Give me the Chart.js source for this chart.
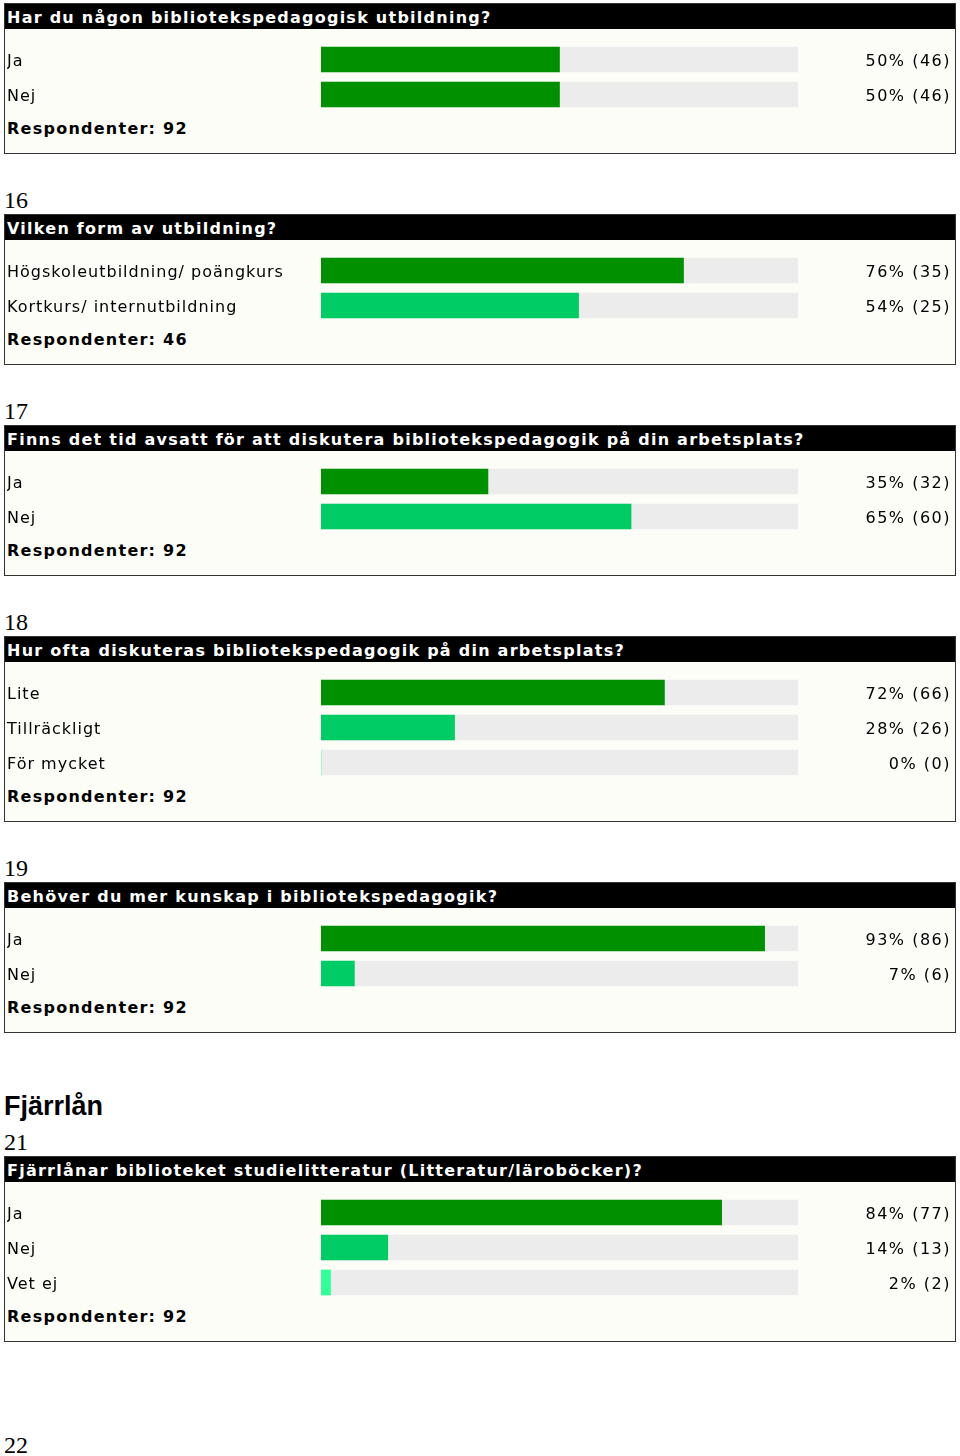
<!DOCTYPE html>
<html>
<head>
<meta charset="utf-8">
<script src="https://cdn.jsdelivr.net/npm/chart.js@4.4.1/dist/chart.umd.min.js"></script>
<style>
  body { margin: 0; background: #fff; width: 960px; height: 1456px; position: relative; overflow: hidden; }
  .num { position: absolute; left: 4px; font-family: "Liberation Serif", serif; font-size: 24px; line-height: 24px; color: #000; }
  .h2 { position: absolute; left: 4px; font-family: "Liberation Sans", Arial, sans-serif; font-weight: bold; font-size: 27px; line-height: 30px; color: #000; }
  .panel { position: absolute; left: 4px; width: 952px; box-sizing: border-box; border: 1px solid #333; background: #fdfdf7; }
  .panel .head { height: 25px; background: #000; color: #fff; font-family: "DejaVu Sans", Verdana, sans-serif; font-weight: bold; font-size: 16px; line-height: 27px; padding-left: 2px; letter-spacing: 1.25px; white-space: nowrap; }
  .panel .box { position: absolute; left: 0; top: 38px; width: 950px; }
  .panel .resp { position: absolute; left: 2px; font-family: "DejaVu Sans", Verdana, sans-serif; font-weight: bold; font-size: 16px; line-height: 20px; letter-spacing: 1.25px; color: #000; }
</style>
</head>
<body>
<script>
// questions
const questions = [
  "Har du någon bibliotekspedagogisk utbildning?",
  "Vilken form av utbildning?",
  "Finns det tid avsatt för att diskutera bibliotekspedagogik på din arbetsplats?",
  "Hur ofta diskuteras bibliotekspedagogik på din arbetsplats?",
  "Behöver du mer kunskap i bibliotekspedagogik?",
  "Fjärrlånar biblioteket studielitteratur (Litteratur/läroböcker)?"
];
const questionNumbers = ["", "16", "17", "18", "19", "21"];

// answer categories
const answers = [
  ["Ja", "Nej"],
  ["Högskoleutbildning/ poängkurs", "Kortkurs/ internutbildning"],
  ["Ja", "Nej"],
  ["Lite", "Tillräckligt", "För mycket"],
  ["Ja", "Nej"],
  ["Ja", "Nej", "Vet ej"]
];

// percent of respondents
const percents = [
  [50, 50],
  [76, 54],
  [35, 65],
  [72, 28, 0],
  [93, 7],
  [84, 14, 2]
];

// answer counts
const counts = [
  [46, 46],
  [35, 25],
  [32, 60],
  [66, 26, 0],
  [86, 6],
  [77, 13, 2]
];

const respondents = [92, 46, 92, 92, 92, 92];

// bar colours per question
const barColors = [
  ["#009000", "#009000"],
  ["#009000", "#00cc66"],
  ["#009000", "#00cc66"],
  ["#009000", "#00cc66", "#33ff99"],
  ["#009000", "#00cc66"],
  ["#009000", "#00cc66", "#33ff99"]
];

const trackMax = 100;

// layout
const panelTops = [3, 214, 425, 636, 882, 1156];
const rowH = 35;
const font = "'DejaVu Sans', Verdana, sans-serif";

function addDiv(cls, text, top) {
  const d = document.createElement("div");
  d.className = cls;
  d.textContent = text;
  d.style.top = top + "px";
  document.body.appendChild(d);
  return d;
}

// numbers and heading
questionNumbers.forEach((n, i) => {
  if (n) addDiv("num", n, panelTops[i] - 26);
});
addDiv("h2", "Fjärrlån", 1091);
addDiv("num", "22", 1433);

// fixed axis width, no label padding, own letter spacing for the labels
function fitAxis(width, spacing) {
  return (scale) => {
    scale.width = width;
    scale.paddingTop = 0;
    scale.paddingBottom = 0;
    if (!scale._spaced) {
      const draw = scale.drawLabels;
      scale.drawLabels = function (area) {
        this.ctx.letterSpacing = spacing;
        draw.call(this, area);
        this.ctx.letterSpacing = "0px";
      };
      scale._spaced = true;
    }
  };
}

questions.forEach((q, i) => {
  const n = answers[i].length;
  const panel = document.createElement("div");
  panel.className = "panel";
  panel.style.top = panelTops[i] + "px";
  panel.style.height = (81 + rowH * n) + "px";

  const head = document.createElement("div");
  head.className = "head";
  head.textContent = q;
  panel.appendChild(head);

  const box = document.createElement("div");
  box.className = "box";
  box.style.height = (rowH * n) + "px";
  const canvas = document.createElement("canvas");
  box.appendChild(canvas);
  panel.appendChild(box);

  const resp = document.createElement("div");
  resp.className = "resp";
  resp.textContent = "Respondenter: " + respondents[i];
  resp.style.top = (38 + rowH * n + 7) + "px";
  panel.appendChild(resp);

  document.body.appendChild(panel);

  const rightLabels = percents[i].map((p, j) => `${p}% (${counts[i][j]})`);

  new Chart(canvas, {
    type: "bar",
    data: {
      labels: answers[i],
      datasets: [
        {
          data: percents[i],
          backgroundColor: barColors[i],
          barThickness: 25,
          grouped: false,
          order: 1,
        },
        {
          data: answers[i].map(() => trackMax),
          backgroundColor: "#ececec",
          barThickness: 25,
          grouped: false,
          order: 2,
        },
      ],
    },
    options: {
      indexAxis: "y",
      responsive: true,
      maintainAspectRatio: false,
      animation: false,
      events: [],
      layout: { padding: { left: 2, right: 4, top: 0, bottom: 0 } },
      scales: {
        x: { display: false, min: 0, max: trackMax },
        y: {
          position: "left",
          grid: { display: false },
          border: { display: false },
          ticks: { crossAlign: "far", color: "#000", font: { family: font, size: 16 }, padding: 0, labelOffset: 2 },
          afterFit: fitAxis(314, "1px"),
        },
        y2: {
          type: "category",
          position: "right",
          labels: rightLabels,
          grid: { display: false },
          border: { display: false },
          ticks: { crossAlign: "far", color: "#000", font: { family: font, size: 16 }, padding: 0, labelOffset: 2 },
          afterFit: fitAxis(153, "1.5px"),
        },
      },
      plugins: { legend: { display: false }, tooltip: { enabled: false } },
    },
  });
});
</script>
</body>
</html>
